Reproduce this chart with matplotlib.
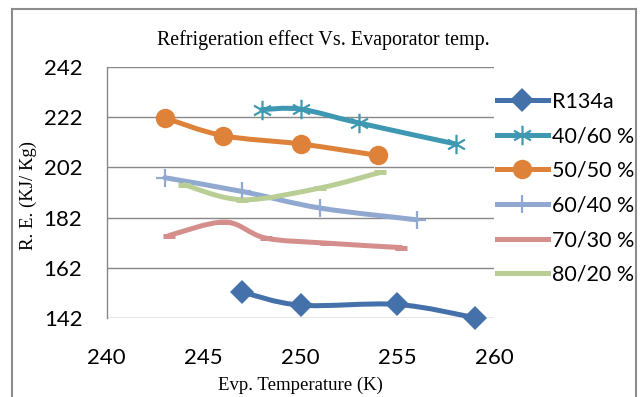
import numpy as np
import matplotlib
matplotlib.use("Agg")
import matplotlib.pyplot as plt
from matplotlib.path import Path
from matplotlib.patches import PathPatch
from matplotlib.lines import Line2D

# Refrigeration effect (kJ/kg) against evaporator temperature (K)
series_names = ["R134a", "40/60 %", "50/50 %", "60/40 %", "70/30 %", "80/20 %"]

t_r134a = [247, 250, 255, 259]
re_r134a = [152.2, 147.0, 147.3, 142.0]

t_4060 = [248, 250, 253, 258]
re_4060 = [225.1, 225.3, 219.8, 211.4]

t_5050 = [243, 246, 250, 254]
re_5050 = [221.8, 214.7, 211.4, 206.8]

t_6040 = [243, 247, 251, 256]
re_6040 = [197.9, 192.4, 185.8, 181.1]

t_7030 = [243.2, 246.1, 248.2, 251.3, 255.2]
re_7030 = [174.8, 180.2, 173.8, 171.8, 170.0]

t_8020 = [244, 247, 251, 254.1]
re_8020 = [195.1, 189.1, 193.8, 200.0]

x_ticks = [240, 245, 250, 255, 260]
y_ticks = [142, 162, 182, 202, 222, 242]

colors = ["#4471A9", "#3E98B2", "#DE823A", "#91A8D0", "#D48E8C", "#B9CE94"]

# asterisk-style marker: vertical bar plus two diagonals
star_path = Path(
    [(0, -1), (0, 1), (-0.87, -0.5), (0.87, 0.5), (-0.87, 0.5), (0.87, -0.5)],
    [Path.MOVETO, Path.LINETO, Path.MOVETO, Path.LINETO, Path.MOVETO, Path.LINETO],
)

lw = 3.6
styles = [
    dict(marker="D", ms=12, mew=0),
    dict(marker=star_path, ms=14, mew=1.6, mfc="none"),
    dict(marker="o", ms=14, mew=0),
    dict(marker="+", ms=13, mew=1.6),
    dict(marker="_", ms=8, mew=lw),
    dict(marker="_", ms=8, mew=lw),
]

data = [
    (t_r134a, re_r134a),
    (t_4060, re_4060),
    (t_5050, re_5050),
    (t_6040, re_6040),
    (t_7030, re_7030),
    (t_8020, re_8020),
]


def smooth_path(xs, ys):
    """Cubic Bezier path through the points (Catmull-Rom tangents)."""
    p = np.column_stack([xs, ys]).astype(float)
    n = len(p)
    verts = [p[0]]
    codes = [Path.MOVETO]
    for i in range(n - 1):
        p0 = p[i - 1] if i > 0 else p[i]
        p3 = p[i + 2] if i + 2 < n else p[i + 1]
        c1 = p[i] + (p[i + 1] - p0) / 6.0
        c2 = p[i + 1] - (p3 - p[i]) / 6.0
        verts += [c1, c2, p[i + 1]]
        codes += [Path.CURVE4] * 3
    return Path(verts, codes)


W, H = 642, 397
fig = plt.figure(figsize=(W / 100, H / 100), dpi=100)
fig.patch.set_facecolor("white")

left, right, top, bottom = 106.7, 494.3, 67.3, 317.7
ax = fig.add_axes([left / W, 1 - bottom / H, (right - left) / W, (bottom - top) / H])

handles = []
for name, (xs, ys), col, st in zip(series_names, data, colors, styles):
    ax.add_patch(PathPatch(smooth_path(xs, ys), fill=False, edgecolor=col,
                           lw=lw, capstyle="round", joinstyle="round",
                           zorder=3, clip_on=False))
    kw = dict(st)
    mfc = kw.pop("mfc", col)
    ax.plot(xs, ys, linestyle="none", color=col, mfc=mfc, mec=col,
            zorder=4, clip_on=False, **kw)
    handles.append(Line2D([], [], color=col, lw=lw, mfc=mfc, mec=col, **kw))

ax.set_xlim(240, 260)
ax.set_ylim(142, 242)
ax.set_xticks(x_ticks)
ax.set_yticks(y_ticks)
ax.grid(axis="y", color="#888888", lw=1.0)
ax.set_axisbelow(True)
for s in ["top", "right", "bottom"]:
    ax.spines[s].set_visible(False)
ax.spines["left"].set_color("#888888")
ax.spines["left"].set_linewidth(1.0)
ax.tick_params(length=0, labelsize=16, pad=0)
for lab in ax.get_xticklabels() + ax.get_yticklabels():
    lab.set_family("Lato")
ax.tick_params(axis="x", pad=21.5)
ax.tick_params(axis="y", pad=17.5)

serif = "Liberation Serif"
fig.text(323 / W, 1 - 40 / H, "Refrigeration effect Vs. Evaporator temp.",
         ha="center", va="center", family=serif, fontsize=14.4)
fig.text(300 / W, 1 - 385 / H, "Evp. Temperature (K)",
         ha="center", va="center", family=serif, fontsize=13.5)
fig.text(28 / W, 1 - 196 / H, "R. E. (KJ/ Kg)", rotation=90,
         ha="center", va="center", family=serif, fontsize=13.5)

leg = fig.legend(handles, series_names, loc="upper left",
                 bbox_to_anchor=(497 / W, 1 - 91.5 / H), frameon=False,
                 prop=dict(family="Lato", size=15.5), handlelength=2.35,
                 handletextpad=0.2, labelspacing=0.68, borderaxespad=0,
                 borderpad=0)

# chart frame
frame_col = "#8C8C8C"
fig.add_artist(Line2D([11.7 / W, 11.7 / W], [0, 1 - 9 / H], color=frame_col, lw=1.5))
fig.add_artist(Line2D([11.7 / W, 635.7 / W], [1 - 9 / H, 1 - 9 / H], color=frame_col, lw=1.5))
fig.add_artist(Line2D([635.7 / W, 635.7 / W], [0, 1 - 9 / H], color=frame_col, lw=1.5))

fig.savefig("out.png", dpi=100)
